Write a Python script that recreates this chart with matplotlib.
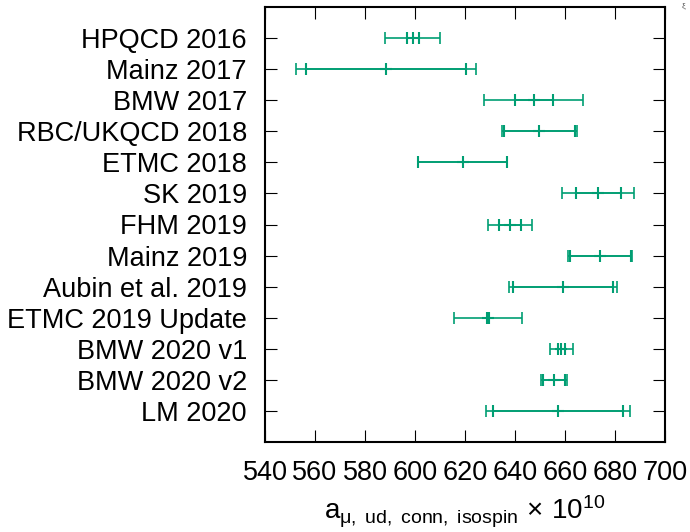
import matplotlib
matplotlib.use("Agg")
import matplotlib.pyplot as plt

plt.rcParams['font.family'] = ['Liberation Sans', 'DejaVu Sans']
plt.rcParams['mathtext.fontset'] = 'custom'
plt.rcParams['mathtext.rm'] = 'Liberation Sans'
plt.rcParams['mathtext.it'] = 'Liberation Sans'

# Results (central value, inner/stat and outer/total half widths)
labels = ["HPQCD 2016", "Mainz 2017", "BMW 2017", "RBC/UKQCD 2018", "ETMC 2018",
          "SK 2019", "FHM 2019", "Mainz 2019", "Aubin et al. 2019",
          "ETMC 2019 Update", "BMW 2020 v1", "BMW 2020 v2", "LM 2020"]
central = [599.1, 588.3, 647.5, 649.7, 619.1, 673.2, 637.9, 674.0, 659.1,
           629.1, 658.5, 655.5, 657.1]
inner_err = [2.4, 32.0, 7.5, 14.3, 17.8, 9.0, 4.4, 12.2, 20.0, 0.3, 1.4, 4.4, 26.1]
outer_err = [11.0, 36.0, 19.8, 15.0, 17.8, 14.3, 8.9, 12.9, 21.7, 13.7, 4.5, 5.2, 28.9]
xticks = [540, 560, 580, 600, 620, 640, 660, 680, 700]

green = "#009e73"
rows = list(range(1, len(labels) + 1))

fig = plt.figure(figsize=(6.9, 5.32), dpi=100)
ax = fig.add_axes([265 / 690, 1 - 442 / 532, 400 / 690, 435 / 532])

# total error bars
ax.errorbar(central, rows, xerr=outer_err, fmt='none', ecolor=green,
            elinewidth=1.2, capsize=4, capthick=1.2)
# statistical error bars and central point
ax.errorbar(central, rows, xerr=inner_err, fmt='+', color=green, ecolor=green,
            elinewidth=1.2, capsize=4, capthick=1.2, markersize=8, markeredgewidth=1.5)

ax.set_xlim(540, 700)
ax.set_ylim(14, 0)
ax.set_xticks(xticks)
ax.set_yticks(rows)
ax.set_yticklabels(labels)

ax.tick_params(axis='both', direction='in', length=8.6, width=0.8,
               labelsize=19.5, pad=13, top=True, right=True)
for sp in ax.spines.values():
    sp.set_linewidth(1.5)

ax.set_xlabel(r'$\mathregular{a_{\mu,\ ud,\ conn,\ isospin}\,\times\,10^{10}}$',
              fontsize=20, labelpad=6)

fig.text(683 / 690, 1 - 6 / 532, "ξ", fontsize=6, color="#555555", ha='center', va='center')

fig.savefig("out.png", dpi=100)
